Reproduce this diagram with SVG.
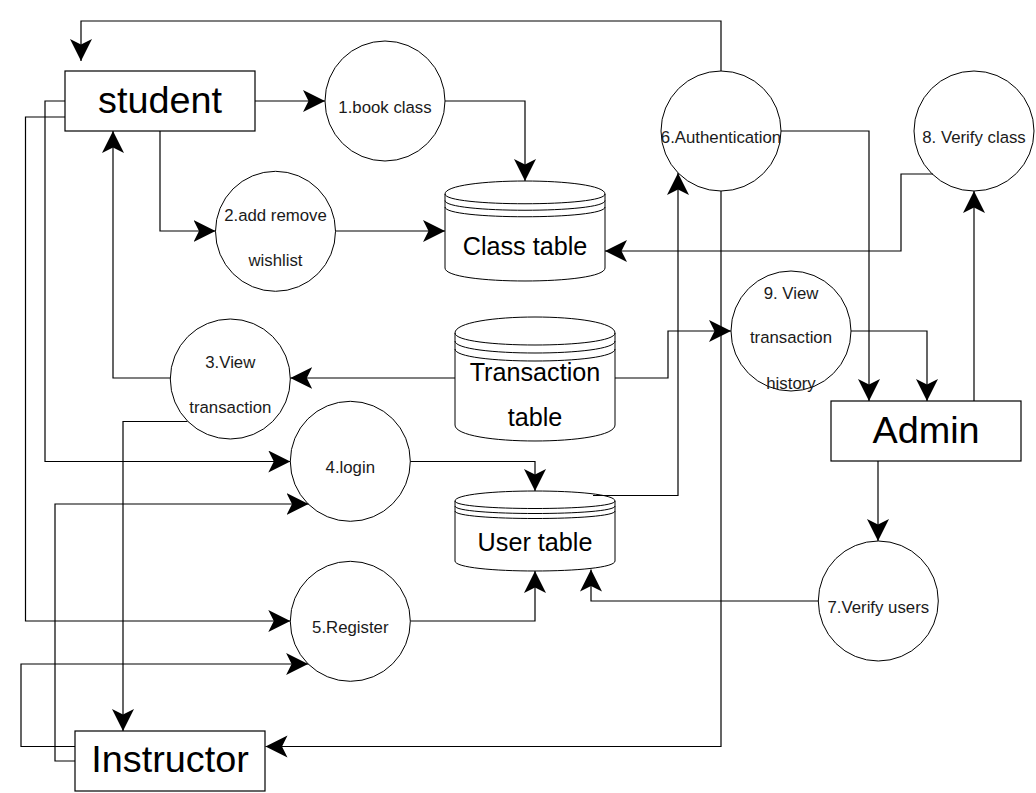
<svg xmlns="http://www.w3.org/2000/svg" width="1036" height="793" viewBox="0 0 1036 793">
<defs>
<style>
.box{fill:#fff;stroke:#000;stroke-width:1.2}
.proc{fill:#fff;stroke:#000;stroke-width:1}
.db{fill:#fff;stroke:#000;stroke-width:1}
.inner{fill:none;stroke:#000;stroke-width:1}
.edge{fill:none;stroke:#000;stroke-width:1.2;marker-end:url(#arr)}
.big{font-family:"Liberation Sans",Arial,Helvetica,sans-serif;font-size:37.8px;fill:#000;text-anchor:middle}
.mid{font-family:"Liberation Sans",Arial,Helvetica,sans-serif;font-size:25.2px;fill:#000;text-anchor:middle}
.sm{font-family:"Liberation Sans",Arial,Helvetica,sans-serif;font-size:16.8px;fill:#1a1a1a;text-anchor:middle}
</style>
<marker id="arr" markerWidth="24" markerHeight="24" refX="22" refY="11" orient="auto" markerUnits="userSpaceOnUse">
<path d="M0,0 L22,11 L0,22 L5.5,11 Z" fill="#000"/>
</marker>
</defs>
<rect width="1036" height="793" fill="#fff"/>

<g id="student"><rect class="box" x="65" y="71" width="190" height="60"/><text class="big" x="160" y="113">student</text></g>
<g id="instructor"><rect class="box" x="75" y="731" width="190" height="60"/><text class="big" x="170" y="772">Instructor</text></g>
<g id="admin"><rect class="box" x="831" y="401" width="190" height="60"/><text class="big" x="926" y="443">Admin</text></g>

<g id="p1"><circle class="proc" cx="385" cy="101" r="60"/><text class="sm" x="385" y="113">1.book class</text></g>
<g id="p2"><circle class="proc" cx="275.5" cy="231.3" r="60"/><text class="sm" x="275.5" y="221">2.add remove</text><text class="sm" x="275.5" y="266">wishlist</text></g>
<g id="p3"><circle class="proc" cx="230.3" cy="379" r="60"/><text class="sm" x="230.3" y="368">3.View</text><text class="sm" x="230.3" y="413">transaction</text></g>
<g id="p4"><circle class="proc" cx="350.3" cy="461.3" r="60"/><text class="sm" x="350.3" y="472.5">4.login</text></g>
<g id="p5"><circle class="proc" cx="350.3" cy="621.3" r="60"/><text class="sm" x="350.3" y="633">5.Register</text></g>
<g id="p6"><circle class="proc" cx="721" cy="131" r="60"/><text class="sm" x="721" y="142.5">6.Authentication</text></g>
<g id="p7"><circle class="proc" cx="878.3" cy="601" r="60"/><text class="sm" x="878.3" y="612.5">7.Verify users</text></g>
<g id="p8"><circle class="proc" cx="974" cy="131" r="60"/><text class="sm" x="974" y="142.5">8. Verify class</text></g>
<g id="p9"><circle class="proc" cx="791" cy="331" r="60"/><text class="sm" x="791" y="298.5">9. View</text><text class="sm" x="791" y="343">transaction</text><text class="sm" x="791" y="389">history</text></g>

<g id="classTable">
<path class="db" d="M445,194 C445,176.67 605,176.67 605,194 L605,268 C605,285.33 445,285.33 445,268 Z"/>
<path class="inner" d="M445,194 C445,207 605,207 605,194 M445,200.5 C445,213.5 605,213.5 605,200.5 M445,207 C445,220 605,220 605,207"/>
<text class="mid" x="525" y="255">Class table</text>
</g>
<g id="transactionTable">
<path class="db" d="M455,333 C455,311.67 615,311.67 615,333 L615,425 C615,446.33 455,446.33 455,425 Z"/>
<path class="inner" d="M455,333 C455,349 615,349 615,333 M455,341 C455,357 615,357 615,341 M455,349 C455,365 615,365 615,349"/>
<text class="mid" x="535" y="381">Transaction</text>
<text class="mid" x="535" y="426">table</text>
</g>
<g id="userTable">
<path class="db" d="M455,501 C455,487.67 615,487.67 615,501 L615,561 C615,574.33 455,574.33 455,561 Z"/>
<path class="inner" d="M455,501 C455,511 615,511 615,501 M455,506 C455,516 615,516 615,506 M455,511 C455,521 615,521 615,511"/>
<text class="mid" x="535" y="551">User table</text>
</g>

<g id="connectors">
<path class="edge" d="M721,71 V21 H81 V61"/>
<path class="edge" d="M255,101 H325"/>
<path class="edge" d="M445,101 H525 V181"/>
<path class="edge" d="M160,131 V231 H215.5"/>
<path class="edge" d="M335.5,231 H445"/>
<path class="edge" d="M933,174 H901 V251 H605"/>
<path class="edge" d="M781,131 H869 V401"/>
<path class="edge" d="M851,331 H927 V401"/>
<path class="edge" d="M974,401 V191"/>
<path class="edge" d="M455,378 H290.3"/>
<path class="edge" d="M615,378 H668 V331 H731"/>
<path class="edge" d="M170.3,378 H113 V131"/>
<path class="edge" d="M187.5,421.5 H123 V731"/>
<path class="edge" d="M65,101 H45 V461.5 H290.3"/>
<path class="edge" d="M65,117 H25.5 V621 H290.3"/>
<path class="edge" d="M75,761 H55 V504 H308.5"/>
<path class="edge" d="M75,746.5 H21 V664 H308.1"/>
<path class="edge" d="M410.3,461.5 H535 V491"/>
<path class="edge" d="M410.3,621 H535 V571"/>
<path class="edge" d="M593,495.5 H678 V173"/>
<path class="edge" d="M721,191 V746.5 H265.5"/>
<path class="edge" d="M878,461 V541"/>
<path class="edge" d="M818.3,601 H591 V569.5"/>
</g>
</svg>
